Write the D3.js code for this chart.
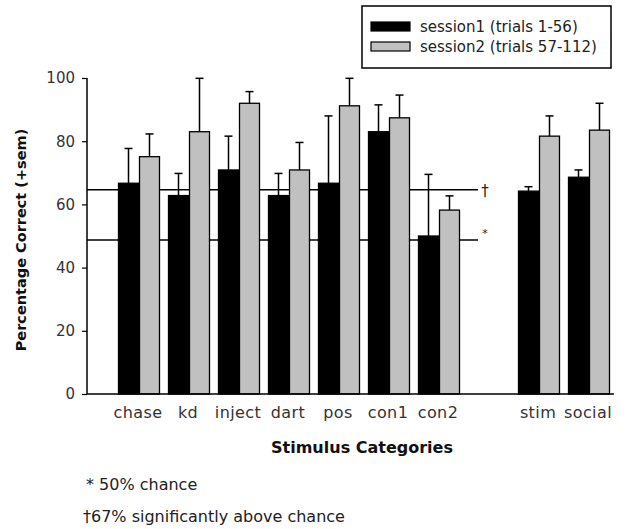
<!DOCTYPE html>
<html><head><meta charset="utf-8">
<script src="https://cdn.jsdelivr.net/npm/d3@7"></script>
<style>body{margin:0;background:#fff}svg{display:block}text{font-family:"DejaVu Sans",sans-serif}</style>
</head><body>
<svg id="c" width="626" height="529"></svg>
<script>
const categories = ["chase","kd","inject","dart","pos","con1","con2","","stim","social"];
const session1 = [66.7,62.8,70.9,62.8,66.7,83,50,null,64.2,68.6];
const session1Err = [77.7,69.8,81.6,69.8,88,91.5,69.5,null,65.6,70.9];
const session2 = [75.1,83,92,70.9,91.2,87.4,58.2,null,81.6,83.5];
const session2Err = [82.3,99.9,95.7,79.6,99.9,94.6,62.7,null,88,92];
const yTicks = [0,20,40,60,80,100];
const refLines = [{v:64.6,mark:"†"},{v:48.7,mark:"*"}];
const legendLabels = ["session1 (trials 1-56)","session2 (trials 57-112)"];
const colors = ["#000000","#c0c0c0"];

const svg = d3.select("#c");
const x = d3.scaleBand().domain(categories.map((d,i)=>i)).range([114,614]).padding(0);
const y = d3.scaleLinear().domain([0,100]).range([394,78]);
const bw = 20;

// y axis
const ya = svg.append("g").attr("transform","translate(87,0)")
  .call(d3.axisLeft(y).tickValues(yTicks).tickSize(5).tickPadding(7));
ya.select(".domain").attr("stroke","#000").attr("stroke-width",1.5).attr("d","M0,78V394");
ya.selectAll(".tick line").attr("stroke","#000").attr("stroke-width",1.2);
ya.selectAll(".tick text").attr("font-size",15).attr("fill","#333").attr("font-family","DejaVu Sans");

// reference lines
refLines.forEach(r=>{
  svg.append("line").attr("x1",87).attr("x2",478).attr("y1",y(r.v)).attr("y2",y(r.v))
    .attr("stroke","#000").attr("stroke-width",1.5);
  svg.append("text").attr("x",485).attr("y",y(r.v)+(r.mark==="*"?-3:6)).attr("font-size",r.mark==="*"?11:15)
    .attr("text-anchor","middle").attr("fill","#222").text(r.mark);
});

// bars
const series = [[session1,session1Err],[session2,session2Err]];
series.forEach((s,si)=>{
  const [vals,errs] = s;
  vals.forEach((v,i)=>{
    if(v==null) return;
    const cx = x(i)+x.bandwidth()/2;
    const x0 = si===0 ? cx-bw-0.5 : cx+0.5;
    const xc = x0+bw/2;
    svg.append("line").attr("x1",xc).attr("x2",xc).attr("y1",y(v)).attr("y2",y(errs[i]))
      .attr("stroke","#000").attr("stroke-width",1.5);
    svg.append("line").attr("x1",xc-4).attr("x2",xc+4).attr("y1",y(errs[i])).attr("y2",y(errs[i]))
      .attr("stroke","#000").attr("stroke-width",1.5);
    svg.append("rect").attr("x",x0).attr("y",y(v)).attr("width",bw).attr("height",y(0)-y(v))
      .attr("fill",colors[si]).attr("stroke","#000").attr("stroke-width",1.3);
  });
});

// x axis
svg.append("line").attr("x1",87).attr("x2",614).attr("y1",394).attr("y2",394).attr("stroke","#000").attr("stroke-width",1.5);
categories.forEach((c,i)=>{
  if(!c) return;
  svg.append("text").attr("x",x(i)+x.bandwidth()/2-1).attr("y",418).attr("text-anchor","middle")
    .attr("font-size",16).attr("letter-spacing",0.4).attr("fill","#333").text(c);
});

// axis titles
svg.append("text").attr("x",362).attr("y",453).attr("text-anchor","middle").attr("font-size",16)
  .attr("font-weight","bold").attr("fill","#111").text("Stimulus Categories");
svg.append("text").attr("transform","translate(26,240) rotate(-90)").attr("text-anchor","middle")
  .attr("font-size",14.5).attr("font-weight","bold").attr("fill","#111").text("Percentage Correct (+sem)");

// legend
svg.append("rect").attr("x",362).attr("y",6).attr("width",249).attr("height",62)
  .attr("fill","#fff").attr("stroke","#000").attr("stroke-width",1.5);
legendLabels.forEach((l,i)=>{
  svg.append("rect").attr("x",371).attr("y",22+i*20).attr("width",39).attr("height",9)
    .attr("fill",colors[i]).attr("stroke","#000").attr("stroke-width",1.2);
  svg.append("text").attr("x",420).attr("y",32+i*20).attr("font-size",15).attr("fill","#222").text(l);
});

// footnotes
svg.append("text").attr("x",86).attr("y",490).attr("font-size",16).attr("fill","#222").text("* 50% chance");
svg.append("text").attr("x",83).attr("y",522).attr("font-size",16).attr("fill","#222").text("†67% significantly above chance");
</script>
</body></html>
